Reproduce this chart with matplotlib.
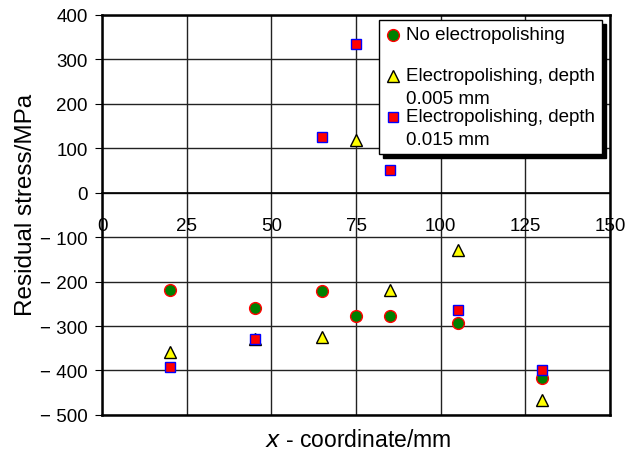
import numpy as np
import matplotlib.pyplot as plt
from matplotlib.ticker import FuncFormatter
from matplotlib.legend_handler import HandlerLine2D

plt.rcParams['font.family'] = ['Liberation Sans', 'DejaVu Sans']

# residual stress measurements along the specimen
x_none = [20, 45, 65, 75, 85, 105, 130]
s_none = [-218, -259, -222, -278, -277, -293, -417]

x_ep5 = [20, 45, 65, 75, 85, 105, 130]
s_ep5 = [-358, -330, -325, 118, -220, -130, -466]

x_ep15 = [20, 45, 65, 75, 85, 105, 130]
s_ep15 = [-392, -329, 125, 334, 52, -263, -399]

labels = ['No electropolishing\n',
          'Electropolishing, depth\n0.005 mm',
          'Electropolishing, depth\n0.015 mm']


class FirstLineHandler(HandlerLine2D):
    # put the marker next to the first line of a two-line label
    def create_artists(self, legend, orig_handle, xdescent, ydescent,
                       width, height, fontsize, trans):
        arts = super().create_artists(legend, orig_handle, xdescent, ydescent,
                                      width, height, fontsize, trans)
        for a in arts:
            a.set_ydata(np.asarray(a.get_ydata()) + 0.6 * fontsize)
        return arts


fig = plt.figure(figsize=(6.27, 4.56), dpi=100)
ax = fig.add_axes([0.163, 0.088, 0.81, 0.877])

ax.set_xlim(0, 150)
ax.set_ylim(-500, 400)
ax.set_xticks(range(0, 151, 25))
ax.set_yticks(range(-500, 401, 100))
ax.grid(True, color='#222222', linewidth=1)
ax.set_axisbelow(True)

# x axis crosses at zero, keep the box line at the bottom too
ax.spines['bottom'].set_position(('data', 0))
ax.spines['bottom'].set_linewidth(1.2)
ax.axhline(-500, color='black', linewidth=1.8, clip_on=False)
for sp in ['left', 'top', 'right']:
    ax.spines[sp].set_linewidth(1.8)

ax.plot(x_none, s_none, 'o', ms=8.5, mfc='green', mec='red', mew=1,
        label=labels[0], zorder=3)
ax.plot(x_ep5, s_ep5, '^', ms=9, mfc='yellow', mec='black', mew=1,
        label=labels[1], zorder=3)
ax.plot(x_ep15, s_ep15, 's', ms=7.5, mfc='red', mec='blue', mew=1,
        label=labels[2], zorder=4)


def yfmt(v, pos):
    if v < 0:
        return '\u2212 %d' % abs(v)
    return '%d' % v


ax.yaxis.set_major_formatter(FuncFormatter(yfmt))
ax.tick_params(axis='y', direction='out', length=5, labelsize=13.5, pad=5.5)
ax.tick_params(axis='x', direction='in', length=0, labelsize=13.5, pad=17.5)

ax.set_ylabel('Residual stress/MPa', fontsize=17.5)
ax.yaxis.set_label_coords(-0.128, 0.527)
ax.set_xlabel('$x$ - coordinate/mm', fontsize=16.5)
ax.xaxis.set_label_coords(0.504, -0.032)

leg = ax.legend(loc='upper right', bbox_to_anchor=(0.984, 0.988), fontsize=13.5,
                frameon=True, fancybox=False, edgecolor='black',
                shadow={'color': 'black', 'alpha': 1, 'ox': 3, 'oy': -3},
                handletextpad=0.3, handlelength=0.8, labelspacing=0.05,
                borderpad=0.35, borderaxespad=0, framealpha=1,
                handler_map={plt.Line2D: FirstLineHandler()})
leg.get_frame().set_linewidth(1)
for t in leg.get_texts():
    t.set_linespacing(1.45)

plt.savefig('out.png')
